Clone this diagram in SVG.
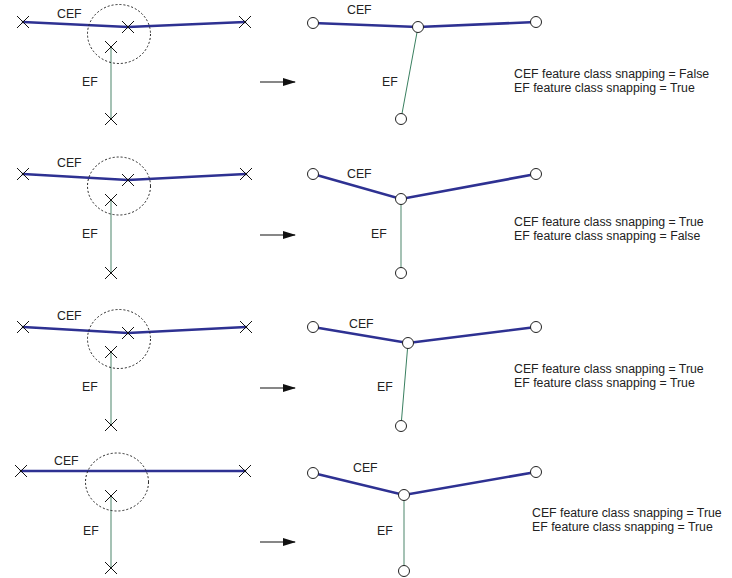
<svg xmlns="http://www.w3.org/2000/svg" width="732" height="578" viewBox="0 0 732 578">
<defs>
<style>
.cef{stroke:#2e3192;stroke-width:2.6;fill:none;stroke-linecap:round}
.ef{stroke:#8fb3a2;stroke-width:1.6;fill:none}
.efthin{stroke:#3a8060;stroke-width:1;fill:none}
.x{stroke:#111;stroke-width:1;fill:none}
.tol{stroke:#222;stroke-width:1;stroke-dasharray:2,2;fill:none}
.v{fill:#fff;stroke:#222;stroke-width:1}
.arr{stroke:#111;stroke-width:1.2;fill:none}
text{font-family:"Liberation Sans",Arial,sans-serif;font-size:12.3px;fill:#222}
</style>
<marker id="ah" markerWidth="13" markerHeight="8" refX="12" refY="4" orient="auto" markerUnits="userSpaceOnUse">
<path d="M0,0 L13,4 L0,8 Z" fill="#111"/>
</marker>
<path id="xm" d="M-6,-6 L6,6 M-6,6 L6,-6"/>
</defs>

<!-- Panel 1 -->
<g id="p1-before">
<polyline class="cef" points="23,22 128,27 245,22"/>
<line class="ef" x1="111" y1="47" x2="111" y2="119"/>
<ellipse class="tol" cx="119" cy="34" rx="31.5" ry="29.5"/>
<use href="#xm" class="x" x="23" y="22"/>
<use href="#xm" class="x" x="128" y="27"/>
<use href="#xm" class="x" x="245" y="22"/>
<use href="#xm" class="x" x="111" y="47"/>
<use href="#xm" class="x" x="111" y="119"/>
<text x="57" y="18">CEF</text>
<text x="82" y="86">EF</text>
</g>
<g id="p1-after">
<polyline class="cef" points="313,23 418,27 536,22"/>
<line class="efthin" x1="418" y1="27" x2="401" y2="119"/>
<circle class="v" cx="313" cy="23" r="5.5"/>
<circle class="v" cx="418" cy="27" r="5.5"/>
<circle class="v" cx="536" cy="22" r="5.5"/>
<circle class="v" cx="401" cy="119" r="5.5"/>
<text x="347" y="14">CEF</text>
<text x="382" y="86">EF</text>
</g>
<g id="p1-text">
<text x="514" y="78">CEF feature class snapping = False</text>
<text x="514" y="92">EF feature class snapping = True</text>
</g>

<!-- Panel 2 -->
<g id="p2-before">
<polyline class="cef" points="23,174 128,180 246,174"/>
<line class="ef" x1="111" y1="200" x2="111" y2="273"/>
<ellipse class="tol" cx="119" cy="186" rx="31.5" ry="29"/>
<use href="#xm" class="x" x="23" y="174"/>
<use href="#xm" class="x" x="128" y="180"/>
<use href="#xm" class="x" x="246" y="174"/>
<use href="#xm" class="x" x="111" y="200"/>
<use href="#xm" class="x" x="111" y="273"/>
<text x="57" y="167">CEF</text>
<text x="82" y="238">EF</text>
</g>
<g id="p2-after">
<polyline class="cef" points="313,174 401,199 536,174"/>
<line class="ef" x1="401" y1="199" x2="401" y2="273"/>
<circle class="v" cx="313" cy="174" r="5.5"/>
<circle class="v" cx="401" cy="199" r="5.5"/>
<circle class="v" cx="536" cy="174" r="5.5"/>
<circle class="v" cx="401" cy="273" r="5.5"/>
<text x="347" y="178">CEF</text>
<text x="371" y="238">EF</text>
</g>
<g id="p2-text">
<text x="514" y="226">CEF feature class snapping = True</text>
<text x="514" y="240">EF feature class snapping = False</text>
</g>

<!-- Panel 3 -->
<g id="p3-before">
<polyline class="cef" points="23,327 128,333 246,327"/>
<line class="ef" x1="111" y1="352" x2="111" y2="425"/>
<ellipse class="tol" cx="119" cy="339" rx="31.5" ry="29.5"/>
<use href="#xm" class="x" x="23" y="327"/>
<use href="#xm" class="x" x="128" y="333"/>
<use href="#xm" class="x" x="246" y="327"/>
<use href="#xm" class="x" x="111" y="352"/>
<use href="#xm" class="x" x="111" y="425"/>
<text x="57" y="320">CEF</text>
<text x="82" y="391">EF</text>
</g>
<g id="p3-after">
<polyline class="cef" points="313,327 408,343 536,327"/>
<line class="efthin" x1="408" y1="343" x2="401" y2="426"/>
<circle class="v" cx="313" cy="327" r="5.5"/>
<circle class="v" cx="408" cy="343" r="5.5"/>
<circle class="v" cx="536" cy="327" r="5.5"/>
<circle class="v" cx="401" cy="426" r="5.5"/>
<text x="349" y="328">CEF</text>
<text x="377" y="391">EF</text>
</g>
<g id="p3-text">
<text x="514" y="373">CEF feature class snapping = True</text>
<text x="514" y="387">EF feature class snapping = True</text>
</g>

<!-- Panel 4 -->
<g id="p4-before">
<line class="cef" x1="21" y1="471" x2="245" y2="471"/>
<line class="ef" x1="111" y1="496" x2="111" y2="568"/>
<ellipse class="tol" cx="117" cy="482" rx="31.5" ry="29"/>
<use href="#xm" class="x" x="21" y="471"/>
<use href="#xm" class="x" x="245" y="471"/>
<use href="#xm" class="x" x="111" y="496"/>
<use href="#xm" class="x" x="111" y="568"/>
<text x="54" y="465">CEF</text>
<text x="83" y="535">EF</text>
</g>
<g id="p4-after">
<polyline class="cef" points="313,473 404,495 536,472"/>
<line class="ef" x1="404" y1="495" x2="404" y2="571"/>
<circle class="v" cx="313" cy="473" r="5.5"/>
<circle class="v" cx="404" cy="495" r="5.5"/>
<circle class="v" cx="536" cy="472" r="5.5"/>
<circle class="v" cx="404" cy="571" r="5.5"/>
<text x="353" y="472">CEF</text>
<text x="377" y="535">EF</text>
</g>
<g id="p4-text">
<text x="532" y="517">CEF feature class snapping = True</text>
<text x="532" y="531">EF feature class snapping = True</text>
</g>

<g id="connectors">
<line class="arr" x1="260" y1="82" x2="295" y2="82" marker-end="url(#ah)"/>
<line class="arr" x1="260" y1="235" x2="295" y2="235" marker-end="url(#ah)"/>
<line class="arr" x1="260" y1="388" x2="295" y2="388" marker-end="url(#ah)"/>
<line class="arr" x1="260" y1="542" x2="295" y2="542" marker-end="url(#ah)"/>
</g>
</svg>
